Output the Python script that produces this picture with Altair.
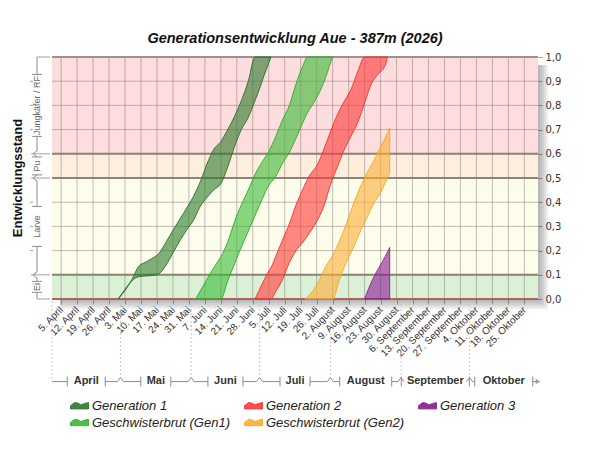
import json
import altair as alt
import pandas as pd

# ---------------- data ----------------
TITLE = "Generationsentwicklung Aue - 387m (2026)"
Y_TITLE = "Entwicklungsstand"
SERIES = ["Generation 1", "Generation 2", "Generation 3",
          "Geschwisterbrut (Gen1)", "Geschwisterbrut (Gen2)"]

GEN1_DATES = ["2026-04-30", "2026-05-03", "2026-05-06", "2026-05-09", "2026-05-12",
              "2026-05-15", "2026-05-18", "2026-05-21", "2026-05-24", "2026-05-27",
              "2026-05-30", "2026-06-02", "2026-06-05", "2026-06-08", "2026-06-11",
              "2026-06-14", "2026-06-17", "2026-06-20", "2026-06-23", "2026-06-26",
              "2026-06-29", "2026-07-01", "2026-07-03", "2026-07-06"]
GEN1_HI = [0.0, 0.04, 0.08, 0.135, 0.152, 0.168, 0.19, 0.235, 0.283, 0.33,
           0.375, 0.424, 0.485, 0.56, 0.62, 0.65, 0.70, 0.755, 0.82, 0.90,
           1.0, 1.0, 1.0, 1.0]
GEN1_LO = [0.0, 0.035, 0.075, 0.092, 0.095, 0.097, 0.105, 0.14, 0.19, 0.24,
           0.285, 0.325, 0.383, 0.42, 0.452, 0.476, 0.545, 0.63, 0.70, 0.75,
           0.82, 0.87, 0.925, 1.0]

GB1_DATES = ["2026-06-03", "2026-06-06", "2026-06-09", "2026-06-12", "2026-06-14",
             "2026-06-17", "2026-06-20", "2026-06-23", "2026-06-26", "2026-06-29",
             "2026-07-02", "2026-07-05", "2026-07-08", "2026-07-11", "2026-07-14",
             "2026-07-17", "2026-07-20", "2026-07-22", "2026-07-25", "2026-07-28",
             "2026-07-31", "2026-08-01", "2026-08-02"]
GB1_HI = [0.0, 0.05, 0.10, 0.145, 0.175, 0.235, 0.32, 0.39, 0.45, 0.515,
          0.565, 0.61, 0.67, 0.74, 0.80, 0.89, 0.965, 1.0, 1.0, 1.0,
          1.0, 1.0, 1.0]
GB1_LO = [0.0, 0.0, 0.0, 0.0, 0.0, 0.075, 0.145, 0.215, 0.28, 0.345,
          0.41, 0.47, 0.505, 0.56, 0.605, 0.665, 0.73, 0.77, 0.815, 0.87,
          0.945, 0.975, 1.0]

GEN2_DATES = ["2026-06-29", "2026-07-02", "2026-07-05", "2026-07-06", "2026-07-08",
              "2026-07-11", "2026-07-14", "2026-07-17", "2026-07-20", "2026-07-23",
              "2026-07-26", "2026-07-29", "2026-08-01", "2026-08-04", "2026-08-07",
              "2026-08-10", "2026-08-13", "2026-08-16", "2026-08-19", "2026-08-22",
              "2026-08-25", "2026-08-26"]
GEN2_HI = [0.0, 0.06, 0.115, 0.13, 0.175, 0.243, 0.31, 0.39, 0.455, 0.512,
           0.55, 0.615, 0.69, 0.76, 0.815, 0.865, 0.94, 1.0, 1.0, 1.0,
           1.0, 1.0]
GEN2_LO = [0.0, 0.0, 0.0, 0.0, 0.03, 0.08, 0.15, 0.20, 0.235, 0.275,
           0.32, 0.38, 0.47, 0.545, 0.615, 0.672, 0.73, 0.81, 0.89, 0.93,
           0.965, 1.0]

GB2_DATES = ["2026-07-21", "2026-07-24", "2026-07-27", "2026-07-30", "2026-08-02",
             "2026-08-05", "2026-08-08", "2026-08-11", "2026-08-14", "2026-08-17",
             "2026-08-20", "2026-08-23", "2026-08-25", "2026-08-27"]
GB2_HI = [0.0, 0.03, 0.075, 0.135, 0.18, 0.24, 0.31, 0.39, 0.46, 0.52,
          0.57, 0.63, 0.665, 0.707]
GB2_LO = [0.0, 0.0, 0.0, 0.0, 0.0, 0.08, 0.153, 0.21, 0.277, 0.335,
          0.395, 0.44, 0.48, 0.52]

GEN3_DATES = ["2026-08-16", "2026-08-19", "2026-08-22", "2026-08-25", "2026-08-27"]
GEN3_HI = [0.0, 0.07, 0.125, 0.175, 0.213]
GEN3_LO = [0.0, 0.0, 0.0, 0.0, 0.0]

STAGE_NAMES = ["Ei", "Larve", "Pu", "Jungkäfer / RF"]
STAGE_LO = [0.0, 0.1, 0.5, 0.6]
STAGE_HI = [0.1, 0.5, 0.6, 1.0]

MONTH_NAMES = ["April", "Mai", "Juni", "Juli", "August", "September", "Oktober"]
MONTH_STARTS = ["2026-04-01", "2026-05-01", "2026-06-01", "2026-07-01",
                "2026-08-01", "2026-09-01", "2026-10-01"]
X_START, X_END = "2026-04-01", "2026-10-31"
FIRST_TICK, N_TICKS = "2026-04-05", 30
Y_TICKS = [0.0, 0.1, 0.2, 0.3, 0.4, 0.5, 0.6, 0.7, 0.8, 0.9, 1.0]
DE_MONTHS = ["Januar", "Februar", "März", "April", "Mai", "Juni", "Juli",
             "August", "September", "Oktober", "November", "Dezember"]

# ---------------- style ----------------
W, H = 486, 242
FONT = "Liberation Sans"
FILL = ["#2b7a2b", "#ff3838", "#8a1794", "#39bb35", "#ffad34"]
STROKE = ["#2a6e2a", "#f03030", "#7d2a85", "#30a82c", "#f5a623"]
BG = ["#daf1d6", "#fdfdec", "#fdeedd", "#fddddd"]
MONTH_GAP_PX = [19, 15, 17.5, 15, 26, 34, 29]
STAGE_GAP_PX = [5.5, 20, 9, 31]
FOOT_PX = 3
BR_Y, BR_TOP, BR_BOT, BR_PEAK = 324.6, 319.6, 329.6, 320.4
BR_X, BR_PEAK_X = -15, -19
BR_COLOR = "#8c8c8c"
LEGEND_PATH = "M-1,0.35L-1,0L-0.55,-0.35L-0.2,-0.3L0.15,-0.1L0.55,-0.25L1,-0.35L1,0.35Z"

# ---------------- tables ----------------
rows = []
for name, d, hi, lo in [(SERIES[0], GEN1_DATES, GEN1_HI, GEN1_LO),
                        (SERIES[3], GB1_DATES, GB1_HI, GB1_LO),
                        (SERIES[1], GEN2_DATES, GEN2_HI, GEN2_LO),
                        (SERIES[4], GB2_DATES, GB2_HI, GB2_LO),
                        (SERIES[2], GEN3_DATES, GEN3_HI, GEN3_LO)]:
    for a, b, c in zip(d, hi, lo):
        rows.append({"series": name, "date": a, "hi": b, "lo": c})
bands = pd.DataFrame(rows)

stages = pd.DataFrame({"stage": STAGE_NAMES, "lo": STAGE_LO, "hi": STAGE_HI,
                       "bg": BG})
stages["mid"] = (stages["lo"] + stages["hi"]) / 2

def iso(t):
    return t.strftime("%Y-%m-%dT%H:%M:%SZ")

start, end = pd.Timestamp(X_START), pd.Timestamp(X_END)
px_day = W / (end - start).days
ticks = pd.date_range(FIRST_TICK, periods=N_TICKS, freq="7D")
ONE = pd.DataFrame({"k": [0]})

X_SCALE = alt.Scale(type="utc", domain=[
    alt.DateTime(year=start.year, month=start.month, date=start.day, utc=True),
    alt.DateTime(year=end.year, month=end.month, date=end.day, utc=True)])
Y_SCALE = alt.Scale(domain=[0, 1], nice=False, zero=False)

X_AXIS = alt.Axis(
    values=[alt.DateTime(year=t.year, month=t.month, date=t.day, utc=True) for t in ticks],
    labelExpr="utcdate(datum.value) + '. ' + " + json.dumps(DE_MONTHS) + "[utcmonth(datum.value)]",
    labelAngle=-45, labelAlign="right", labelBaseline="middle", labelPadding=4,
    tickSize=5, tickColor="#aaaaaa", domain=False, grid=False, title=None,
    labelFont=FONT, labelFontSize=10, labelColor="#333333",
    labelOverlap=False, labelFlush=False, labelBound=False)
Y_AXIS = alt.Axis(
    orient="right", values=Y_TICKS,
    labelExpr="replace(format(datum.value, '.1f'), '.', ',')",
    tickSize=4, tickColor="#999999", domain=False, grid=False, title=None,
    labelFont="DejaVu Sans", labelFontSize=10, labelColor="#333333",
    labelPadding=3, labelFlush=False)

LEGEND = alt.Legend(orient="none", legendX=18, legendY=339, columns=3,
                    direction="horizontal", title=None,
                    symbolType=LEGEND_PATH, symbolSize=324, symbolStrokeWidth=1,
                    symbolOpacity=0.9, labelFont=FONT, labelFontSize=13,
                    labelFontStyle="italic", labelColor="#222222",
                    columnPadding=12, rowPadding=0, labelOffset=3)

def xf(field):
    return alt.X(field, scale=X_SCALE, axis=None)

def yf(field):
    return alt.Y(field, scale=Y_SCALE, axis=None)

layers = []

# shadow
for i in range(1, 6):
    layers.append(alt.Chart(ONE).mark_rect(color="#444444", opacity=0.09).encode(
        x=alt.value(8), x2=alt.value(W + 2 * i), y=alt.value(8), y2=alt.value(H + 2 * i)))

# stage backgrounds
layers.append(alt.Chart(stages).mark_rect().encode(
    x=alt.value(0), x2=alt.value(W), y=yf("lo:Q"), y2="hi:Q",
    color=alt.Color("bg:N", scale=None, legend=None)))

# grid
layers.append(alt.Chart(pd.DataFrame({"date": [iso(t) for t in ticks]}))
              .mark_rule(color="#6e5a5a", opacity=0.4, strokeWidth=1).encode(
    x=xf("date:T"), y=alt.value(0), y2=alt.value(H)))
layers.append(alt.Chart(pd.DataFrame({"v": Y_TICKS[1:-1]}))
              .mark_rule(color="#6e5a5a", opacity=0.4, strokeWidth=1).encode(
    y=yf("v:Q"), x=alt.value(0), x2=alt.value(W)))

# stage boundaries and frame
layers.append(alt.Chart(pd.DataFrame({"v": STAGE_LO[1:]}))
              .mark_rule(color="#8b8478", strokeWidth=2).encode(
    y=yf("v:Q"), x=alt.value(0), x2=alt.value(W)))
layers.append(alt.Chart(pd.DataFrame({"v": [STAGE_HI[-1]]}))
              .mark_rule(color="#9c9090", strokeWidth=2).encode(
    y=yf("v:Q"), x=alt.value(0), x2=alt.value(W)))
layers.append(alt.Chart(pd.DataFrame({"v": [STAGE_LO[0]]}))
              .mark_rule(color="#b5615c", strokeWidth=2).encode(
    y=yf("v:Q"), x=alt.value(0), x2=alt.value(W)))

# generation bands
layers.append(alt.Chart(bands).mark_area(
    fillOpacity=0.6, strokeWidth=1, strokeOpacity=0.9, interpolate="monotone").encode(
    x=alt.X("date:T", scale=X_SCALE, axis=X_AXIS),
    y=alt.Y("hi:Q", scale=Y_SCALE, axis=Y_AXIS),
    y2="lo:Q",
    fill=alt.Fill("series:N", scale=alt.Scale(domain=SERIES, range=FILL), legend=LEGEND),
    stroke=alt.Stroke("series:N", scale=alt.Scale(domain=SERIES, range=STROKE), legend=LEGEND)))

# ---------- month brackets below the axis ----------
mstarts = [pd.Timestamp(s) for s in MONTH_STARTS]
mends = mstarts[1:] + [end]
foot = pd.Timedelta(days=FOOT_PX / px_day)
seg, tk, lab = [], [], []
for i, (name, s, e) in enumerate(zip(MONTH_NAMES, mstarts, mends)):
    c = s + (e - s) / 2
    g = pd.Timedelta(days=MONTH_GAP_PX[i] / px_day)
    a0 = s if i == 0 else s + foot
    b1 = e if i == len(MONTH_NAMES) - 1 else e - foot
    if c - g > a0:
        seg.append({"x": iso(a0), "x2": iso(c - g)})
    if b1 > c + g:
        seg.append({"x": iso(c + g), "x2": iso(b1)})
    tk += [{"x": iso(c - g)}, {"x": iso(c + g)}]
    lab.append({"x": iso(c), "name": name})

layers.append(alt.Chart(pd.DataFrame(seg)).mark_rule(color=BR_COLOR).encode(
    x=xf("x:T"), x2="x2:T", y=alt.value(BR_Y)))
layers.append(alt.Chart(pd.DataFrame(tk)).mark_rule(color=BR_COLOR).encode(
    x=xf("x:T"), y=alt.value(BR_TOP), y2=alt.value(BR_BOT)))
bnd = mstarts[1:]
layers.append(alt.Chart(pd.DataFrame({"x": [iso(b - foot) for b in bnd],
                                      "x2": [iso(b) for b in bnd]}))
              .mark_rule(color=BR_COLOR).encode(
    x=xf("x:T"), x2="x2:T", y=alt.value(BR_Y), y2=alt.value(BR_PEAK)))
layers.append(alt.Chart(pd.DataFrame({"x": [iso(b) for b in bnd],
                                      "x2": [iso(b + foot) for b in bnd]}))
              .mark_rule(color=BR_COLOR).encode(
    x=xf("x:T"), x2="x2:T", y=alt.value(BR_PEAK), y2=alt.value(BR_Y)))
layers.append(alt.Chart(pd.DataFrame({"x": [iso(b) for b in bnd]}))
              .mark_rule(color="#c8c8c8", strokeDash=[2, 2]).encode(
    x=xf("x:T"), y=alt.value(H + 2), y2=alt.value(BR_PEAK)))
layers.append(alt.Chart(pd.DataFrame({"x": [iso(mstarts[0])]}))
              .mark_rule(color="#c8c8c8", strokeDash=[2, 2]).encode(
    x=xf("x:T"), y=alt.value(H + 2), y2=alt.value(BR_Y)))
layers.append(alt.Chart(pd.DataFrame({"x": [iso(end)]}))
              .mark_point(shape="triangle-right", filled=True, size=30,
                          color="#a0a0a0", opacity=1).encode(
    x=xf("x:T"), y=alt.value(BR_Y)))
layers.append(alt.Chart(pd.DataFrame(lab)).mark_text(
    font=FONT, fontSize=11, fontWeight="bold", color="#333333",
    baseline="middle", align="center").encode(
    x=xf("x:T"), y=alt.value(BR_Y - 0.4), text="name:N"))

# ---------- stage brackets on the left ----------
vfoot = FOOT_PX / H
lseg, ltk = [], []
for i, r in stages.iterrows():
    g = STAGE_GAP_PX[i] / H
    a0 = r["lo"] if i == 0 else r["lo"] + vfoot
    b1 = r["hi"] if i == len(stages) - 1 else r["hi"] - vfoot
    if r["mid"] - g > a0:
        lseg.append({"y": a0, "y2": r["mid"] - g})
    if b1 > r["mid"] + g:
        lseg.append({"y": r["mid"] + g, "y2": b1})
    ltk += [{"y": r["mid"] - g}, {"y": r["mid"] + g}]
layers.append(alt.Chart(pd.DataFrame(lseg)).mark_rule(color=BR_COLOR).encode(
    x=alt.value(BR_X), y=yf("y:Q"), y2="y2:Q"))
layers.append(alt.Chart(pd.DataFrame(ltk)).mark_rule(color=BR_COLOR).encode(
    y=yf("y:Q"), x=alt.value(BR_X - 5), x2=alt.value(BR_X + 5)))
inner = STAGE_LO[1:]
layers.append(alt.Chart(pd.DataFrame({"y": [b + vfoot for b in inner] + [b - vfoot for b in inner],
                                      "y2": inner + inner}))
              .mark_rule(color=BR_COLOR).encode(
    x=alt.value(BR_X), x2=alt.value(BR_PEAK_X), y=yf("y:Q"), y2="y2:Q"))
layers.append(alt.Chart(pd.DataFrame({"y": inner})).mark_rule(color="#a0a0a0").encode(
    y=yf("y:Q"), x=alt.value(BR_PEAK_X - 2), x2=alt.value(-2)))
layers.append(alt.Chart(pd.DataFrame({"y": [STAGE_LO[0], STAGE_HI[-1]]}))
              .mark_rule(color="#a0a0a0").encode(
    y=yf("y:Q"), x=alt.value(BR_X), x2=alt.value(-2)))
layers.append(alt.Chart(pd.DataFrame({"y": [v for v in Y_TICKS if v not in STAGE_LO + STAGE_HI]}))
              .mark_rule(color="#a0a0a0").encode(
    y=yf("y:Q"), x=alt.value(BR_X - 7), x2=alt.value(BR_X - 4)))
layers.append(alt.Chart(stages).mark_text(
    font=FONT, fontSize=9, color="#666666", angle=270,
    align="center", baseline="middle").encode(
    x=alt.value(BR_X), y=yf("mid:Q"), text="stage:N"))
layers.append(alt.Chart(ONE).mark_text(
    text=Y_TITLE, font=FONT, fontSize=13, fontWeight="bold", color="#111111",
    angle=270, align="center", baseline="middle").encode(
    x=alt.value(-34), y=alt.value(H / 2)))

chart = alt.layer(*layers).resolve_axis(
    x="independent", y="independent"
).properties(
    width=W, height=H,
    title=alt.TitleParams(TITLE, font=FONT, fontSize=14.5, fontWeight="bold",
                          fontStyle="italic", color="#111111", offset=6,
                          anchor="middle"),
    autosize=alt.AutoSizeParams(type="none"),
    padding={"left": 44, "top": 49, "right": 54, "bottom": 143},
).configure_view(stroke=None)

chart.save("out.html", embed_options={"renderer": "svg", "actions": False})
